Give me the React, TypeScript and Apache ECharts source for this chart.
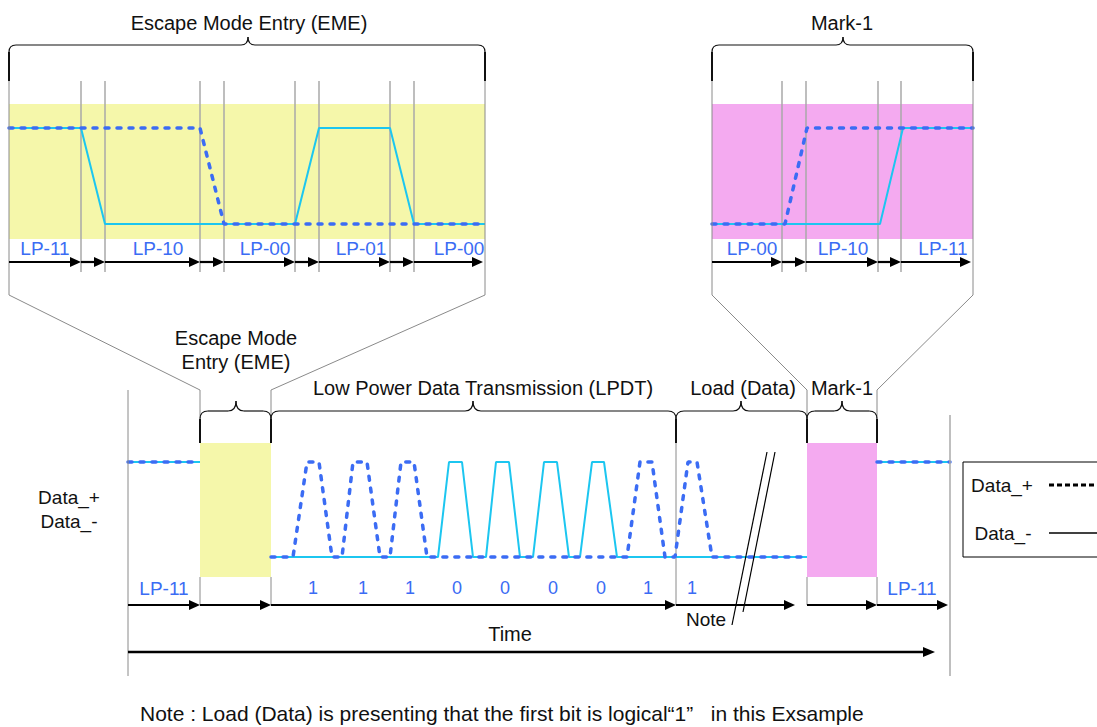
import React, { useEffect, useRef } from "react";
import * as echarts from "echarts";

// ---------- Escape Mode Entry (zoomed view) ----------
const emeBoundaries = [0, 72, 96, 191, 215, 286, 310, 381, 405, 476];
const emeStateLabels = ["LP-11", "LP-10", "LP-00", "LP-01", "LP-00"];
const emeStateLabelTimes = [36, 149, 256, 352, 450];
const emeDataPlus = [[0, 1], [191, 1], [215, 0], [476, 0]];
const emeDataMinus = [[0, 1], [72, 1], [96, 0], [286, 0], [310, 1], [381, 1], [405, 0], [476, 0]];
const emeTitle = "Escape Mode Entry (EME)";
const emeTitleTime = 240;
const emeBraceTip = 239;

// ---------- Mark-1 (zoomed view) ----------
const markBoundaries = [0, 70, 94, 166, 189, 261];
const markStateLabels = ["LP-00", "LP-10", "LP-11"];
const markStateLabelTimes = [40, 131, 231];
const markDataPlus = [[0, 0], [73, 0], [95, 1], [261, 1]];
const markDataMinus = [[0, 0], [168, 0], [191, 1], [261, 1]];
const markTitle = "Mark-1";
const markTitleTime = 130;
const markBraceTip = 131;

// ---------- main timeline ----------
const mainBoundaries = [0, 72, 143, 548, 679, 749, 822];
const phaseStart = [72, 143, 548, 679];
const phaseEnd = [143, 548, 679, 749];
const phaseTitles = [["Escape Mode", "Entry (EME)"], ["Low Power Data Transmission (LPDT)"], ["Load (Data)"], ["Mark-1"]];
const phaseTitleTimes = [108, 355, 615, 714];
const phaseBraceTips = [108, 345, 613, 714];
const lpdtBits = ["1", "1", "1", "0", "0", "0", "0", "1", "1"];
const lpdtBitTimes = [185, 235, 282, 329, 377, 425, 473, 520, 564];
const mainStateLabels = ["LP-11", "LP-11"];
const mainStateLabelTimes = [36, 784];
const mainArrows = [[0, 72], [72, 143], [143, 548], [548, 667], [679, 749], [749, 820]];
const timeArrow = [0, 807];
const timeLabelTime = 382;
const breakTimes = [639, 647];
const noteTime = 578;
const eme = [72, 143];
const mark1 = [679, 749];
const mainDataPlus: any[] = [
  [0, 1], [72, 1], [72, "-"],
  [143, 0], [165, 0], [179, 1], [191, 1], [204, 0], [214, 0], [225, 1], [239, 1], [252, 0],
  [262, 0], [273, 1], [286, 1], [299, 0], [499, 0], [512, 1], [524, 1], [537, 0],
  [547, 0], [560, 1], [569, 1], [584, 0], [679, 0], [679, "-"],
  [749, 1], [822, 1],
];
const mainDataMinus: any[] = [
  [0, 1], [72, 1], [72, "-"],
  [143, 0], [310, 0], [321, 1], [334, 1], [345, 0], [358, 0], [368, 1], [381, 1], [392, 0],
  [405, 0], [416, 1], [429, 1], [441, 0], [452, 0], [464, 1], [476, 1], [489, 0], [679, 0], [679, "-"],
  [749, 1], [822, 1],
];
const legendNames = ["Data_+", "Data_-"];
const footnote = "Note : Load (Data) is presenting that the first bit is logical\u201c1\u201d   in this Exsample";

const BLUE = "#3b6cf4";
const CYAN = "#1cc6f0";
const YELLOW = "#f5f7aa";
const PINK = "#f4aaf0";
const FONT = '"Liberation Sans", Arial, Helvetica, sans-serif';

export default function App() {
  const ref = useRef<HTMLDivElement>(null);
  useEffect(() => {
    if (!ref.current) return;
    const chart = echarts.init(ref.current, null, { renderer: "svg" });
    const grids = [
      { left: 9, top: 104, width: 476, height: 135 },
      { left: 712, top: 104, width: 261, height: 135 },
      { left: 128, top: 443, width: 822, height: 134 },
    ];
    const xMax = [476, 261, 822];
    const yRange = [[-0.156, 1.25], [-0.156, 1.25], [-0.21, 1.2]];
    const plusStyle = { color: BLUE, width: 3.5, type: [4, 8], cap: "round" };
    const minusStyle = { color: CYAN, width: 2 };
    const wave = (g: number, data: any[], style: any, z: number) => ({
      type: "line", xAxisIndex: g, yAxisIndex: g, data, showSymbol: false, symbol: "none",
      lineStyle: style, z, silent: true, connectNulls: false,
    });
    const band = (g: number, areas: any[]) => ({
      type: "line", xAxisIndex: g, yAxisIndex: g, data: [], z: 1, silent: true,
      markArea: { silent: true, data: areas },
    });
    const option: any = {
      animation: false,
      grid: grids.map((g) => ({ ...g, show: false })),
      xAxis: grids.map((_, i) => ({ type: "value", gridIndex: i, min: 0, max: xMax[i], show: false })),
      yAxis: grids.map((_, i) => ({ type: "value", gridIndex: i, min: yRange[i][0], max: yRange[i][1], show: false })),
      series: [
        band(0, [[{ xAxis: 0, itemStyle: { color: YELLOW } }, { xAxis: 476 }]]),
        band(1, [[{ xAxis: 0, itemStyle: { color: PINK } }, { xAxis: 261 }]]),
        band(2, [
          [{ xAxis: eme[0], itemStyle: { color: YELLOW } }, { xAxis: eme[1] }],
          [{ xAxis: mark1[0], itemStyle: { color: PINK } }, { xAxis: mark1[1] }],
        ]),
        wave(0, emeDataMinus, minusStyle, 3),
        wave(0, emeDataPlus, plusStyle, 4),
        wave(1, markDataMinus, minusStyle, 3),
        wave(1, markDataPlus, plusStyle, 4),
        wave(2, mainDataMinus, minusStyle, 3),
        wave(2, mainDataPlus, plusStyle, 4),
      ],
    };
    chart.setOption(option);

    const X = (g: number, t: number) => (chart.convertToPixel({ gridIndex: g } as any, [t, 0]) as number[])[0];
    const els: any[] = [];
    const ln = (x1: number, y1: number, x2: number, y2: number, stroke: string, w: number, dash?: number[], z = 10) => ({
      type: "line", silent: true, z, shape: { x1, y1, x2, y2 }, style: { stroke, lineWidth: w, lineDash: dash },
    });
    const poly = (pts: number[][], stroke: string, w: number) => ({
      type: "polyline", silent: true, z: 10, shape: { points: pts }, style: { stroke, lineWidth: w, fill: null },
    });
    const arrow = (x1: number, x2: number, y: number, w = 2.2, head = 11) => [
      ln(x1, y, x2 - head + 2, y, "#000", w),
      { type: "polygon", silent: true, z: 10, shape: { points: [[x2, y], [x2 - head, y - 5], [x2 - head, y + 5]] }, style: { fill: "#000" } },
    ];
    const txt = (x: number, y: number, s: string, size: number, fill = "#111", align = "center") => ({
      type: "text", silent: true, z: 10, x, y,
      style: { text: s, fill, font: `${size}px ${FONT}`, textAlign: align, textVerticalAlign: "middle" },
    });
    const brace = (x1: number, x2: number, xm: number, yBar: number, yTip: number, yTail: number, r: number) => {
      const s = { stroke: "#111", lineWidth: 1.2, fill: null };
      const ts = { stroke: "#111", lineWidth: 2 };
      return [
        { type: "line", silent: true, z: 10, shape: { x1, y1: yTail, x2: x1, y2: yBar + r }, style: ts },
        { type: "bezierCurve", silent: true, z: 10, shape: { x1, y1: yBar + r, x2: x1 + r, y2: yBar, cpx1: x1, cpy1: yBar }, style: s },
        { type: "line", silent: true, z: 10, shape: { x1: x1 + r, y1: yBar, x2: xm - r, y2: yBar }, style: s },
        { type: "bezierCurve", silent: true, z: 10, shape: { x1: xm - r, y1: yBar, x2: xm, y2: yTip, cpx1: xm, cpy1: yBar }, style: s },
        { type: "bezierCurve", silent: true, z: 10, shape: { x1: xm, y1: yTip, x2: xm + r, y2: yBar, cpx1: xm, cpy1: yBar }, style: s },
        { type: "line", silent: true, z: 10, shape: { x1: xm + r, y1: yBar, x2: x2 - r, y2: yBar }, style: s },
        { type: "bezierCurve", silent: true, z: 10, shape: { x1: x2 - r, y1: yBar, x2, y2: yBar + r, cpx1: x2, cpy1: yBar }, style: s },
        { type: "line", silent: true, z: 10, shape: { x1: x2, y1: yBar + r, x2, y2: yTail }, style: ts },
      ];
    };

    // zoomed panels
    const panel = (g: number, bounds: number[], labels: string[], labelTimes: number[], title: string, titleT: number, tipT: number, targetL: number, targetR: number) => {
      const L = X(g, bounds[0]);
      const R = X(g, bounds[bounds.length - 1]);
      els.push(txt(X(g, titleT), 23, title, 20));
      els.push(...brace(L, R, X(g, tipT), 45, 37, 81, 7));
      els.push(poly([[L, 81], [L, 295], [X(2, targetL), 390], [X(2, targetL), 418]], "#8a8a8a", 1));
      els.push(poly([[R, 81], [R, 295], [X(2, targetR), 390], [X(2, targetR), 418]], "#8a8a8a", 1));
      for (let i = 1; i < bounds.length - 1; i++) {
        const x = X(g, bounds[i]);
        els.push(ln(x, 81, x, 272, "#a8a8a8", 1.5, undefined, 2));
      }
      for (let i = 0; i < bounds.length - 1; i++) {
        els.push(...arrow(X(g, bounds[i]), X(g, bounds[i + 1]) - (i === bounds.length - 2 ? 2 : 0), 262));
      }
      labels.forEach((s, i) => els.push(txt(X(g, labelTimes[i]), 248, s, 19, BLUE)));
    };
    panel(0, emeBoundaries, emeStateLabels, emeStateLabelTimes, emeTitle, emeTitleTime, emeBraceTip, eme[0], eme[1]);
    panel(1, markBoundaries, markStateLabels, markStateLabelTimes, markTitle, markTitleTime, markBraceTip, mark1[0], mark1[1]);

    // main timeline
    const x0 = X(2, mainBoundaries[0]);
    const xEnd = X(2, mainBoundaries[mainBoundaries.length - 1]);
    els.push(ln(x0, 390, x0, 676, "#8a8a8a", 1));
    els.push(ln(xEnd, 415, xEnd, 676, "#aaaaaa", 1.5));
    [eme[0], eme[1], mark1[0], mark1[1]].forEach((t) => els.push(ln(X(2, t), 577, X(2, t), 605, "#8a8a8a", 1)));
    els.push(ln(X(2, phaseEnd[1]), 443, X(2, phaseEnd[1]), 605, "#8a8a8a", 1, undefined, 2));
    phaseTitles.forEach((lines, i) => {
      els.push(...brace(X(2, phaseStart[i]), X(2, phaseEnd[i]), X(2, phaseBraceTips[i]), 411, 401, 443, 8));
      if (lines.length === 2) {
        els.push(txt(X(2, phaseTitleTimes[i]), 338, lines[0], 20));
        els.push(txt(X(2, phaseTitleTimes[i]), 362, lines[1], 20));
      } else {
        els.push(txt(X(2, phaseTitleTimes[i]), 388, lines[0], 20));
      }
    });
    mainArrows.forEach(([a, b]) => els.push(...arrow(X(2, a), X(2, b), 605)));
    els.push(...arrow(X(2, timeArrow[0]), X(2, timeArrow[1]), 652, 2.5, 12));
    els.push(txt(X(2, timeLabelTime), 634, "Time", 20));
    lpdtBits.forEach((b, i) => els.push(txt(X(2, lpdtBitTimes[i]), 588, b, 18, BLUE)));
    mainStateLabels.forEach((s, i) => els.push(txt(X(2, mainStateLabelTimes[i]), 588, s, 19, BLUE)));
    // break marks
    els.push(ln(X(2, breakTimes[0]), 452, X(2, breakTimes[0]) - 35, 625, "#000", 1.2));
    els.push(ln(X(2, breakTimes[1]), 452, X(2, breakTimes[1]) - 32, 612, "#000", 1.2));
    els.push(txt(X(2, noteTime), 619, "Note", 19));

    // signal names
    els.push(txt(69, 497, legendNames[0], 19));
    els.push(txt(69, 521, legendNames[1], 19));

    // legend
    els.push({ type: "rect", silent: true, z: 10, shape: { x: 963, y: 462, width: 200, height: 95 }, style: { fill: "#fff", stroke: "#000", lineWidth: 1 } });
    els.push(txt(1002, 485, legendNames[0], 19));
    els.push(ln(1049, 485, 1100, 485, "#000", 3, [5, 3]));
    els.push(txt(1003, 533, legendNames[1], 19));
    els.push(ln(1049, 533, 1100, 533, "#000", 1.5));

    // footnote
    els.push(txt(140, 713, footnote, 21, "#111", "left"));

    chart.setOption({ graphic: els });
    return () => chart.dispose();
  }, []);
  return <div ref={ref} style={{ position: "fixed", left: 0, top: 0, width: 1097, height: 727, background: "#fff" }} />;
}
